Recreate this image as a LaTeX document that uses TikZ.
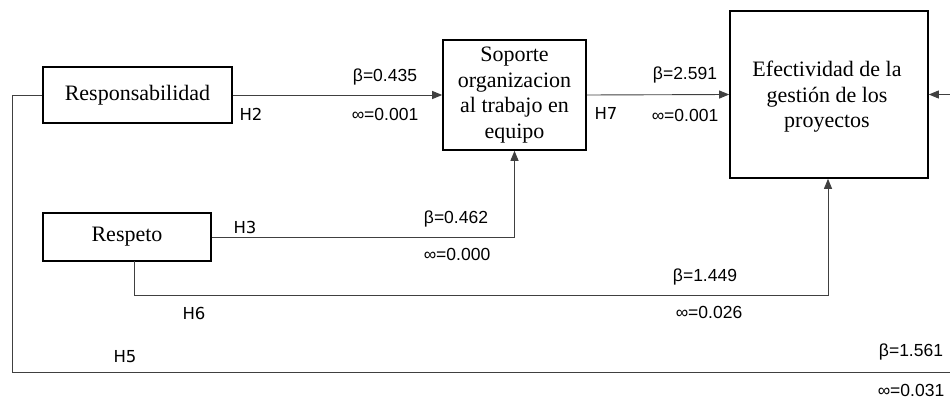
\documentclass[tikz,border=0pt]{standalone}
\usepackage{fontspec}
\setmainfont{Liberation Serif}
\newfontfamily\labfont{Liberation Sans}
\newfontfamily\hfont{DejaVu Sans}
\usetikzlibrary{arrows.meta}
\begin{document}
\begin{tikzpicture}[x=1pt,y=-1pt,
  box/.style={draw=black,line width=1.6pt,fill=white,align=center,inner sep=2pt,
     font=\fontsize{22}{25.5}\selectfont},
  conn/.style={draw=black!75,line width=0.9pt},
  arr/.style={conn,-{Triangle[length=10pt,width=8pt]}},
  lab/.style={inner sep=0pt,font=\labfont\fontsize{17.5}{20}\selectfont},
  hyp/.style={inner sep=0pt,font=\hfont\fontsize{16.5}{20}\selectfont}]
\useasboundingbox (0,0) rectangle (950,401);
% boxes
\node[box,minimum width=189pt,minimum height=56pt] (resp) at (137.5,95) {Responsabilidad};
\node[box,minimum width=143pt,minimum height=110pt] (sop) at (514.5,95)
  {Soporte\\organizacion\\al trabajo en\\equipo};
\node[box,minimum width=198pt,minimum height=167pt] (efe) at (829,94.5) {};
\node[inner sep=0pt,align=center,font=\fontsize{22}{25.5}\selectfont] (efet) at (827,97)
  {Efectividad de la\\gestión de los\\proyectos};
\node[box,minimum width=168pt,minimum height=48pt] (resp2) at (127,237) {Respeto};
% connector helper coordinates
\coordinate (c1) at (12,95);
\coordinate (c2) at (12,372);
\coordinate (c3) at (953,372);
\coordinate (c4) at (953,94.5);
\coordinate (d1) at (514.5,237);
\coordinate (e0) at (134,261);
\coordinate (e1) at (134,295);
\coordinate (e2) at (828,295);
% connectors
\draw[arr] (resp.east) -- (sop.west);
\draw[arr] (sop.east) -- (efe.west);
\draw[arr] (resp2.east) -- (d1) -- (sop.south);
\draw[arr] (e0) -- (e1) -- (e2) -- (efe.south -| e2);
\draw[arr] (resp.west) -- (c1) -- (c2) -- (c3) -- (c4) -- (efe.east);
% labels
\node[lab] (b1) at (385,77) {β=0.435};
\node[lab] (p1) at (385,114) {∞=0.001};
\node[hyp] (h2) at (251,114) {H2};
\node[lab] (b2) at (685,75) {β=2.591};
\node[lab] (p2) at (685,115) {∞=0.001};
\node[hyp] (h7) at (606,113) {H7};
\node[hyp] (h3) at (245,227) {H3};
\node[lab] (b3) at (456,219) {β=0.462};
\node[lab] (p3) at (457,254) {∞=0.000};
\node[hyp] (h6) at (194,313) {H6};
\node[lab] (b4) at (705,277) {β=1.449};
\node[lab] (p4) at (709,312) {∞=0.026};
\node[hyp] (h5) at (125,357) {H5};
\node[lab] (b5) at (911,352) {β=1.561};
\node[lab] (p5) at (911,390) {∞=0.031};
\end{tikzpicture}
\end{document}
